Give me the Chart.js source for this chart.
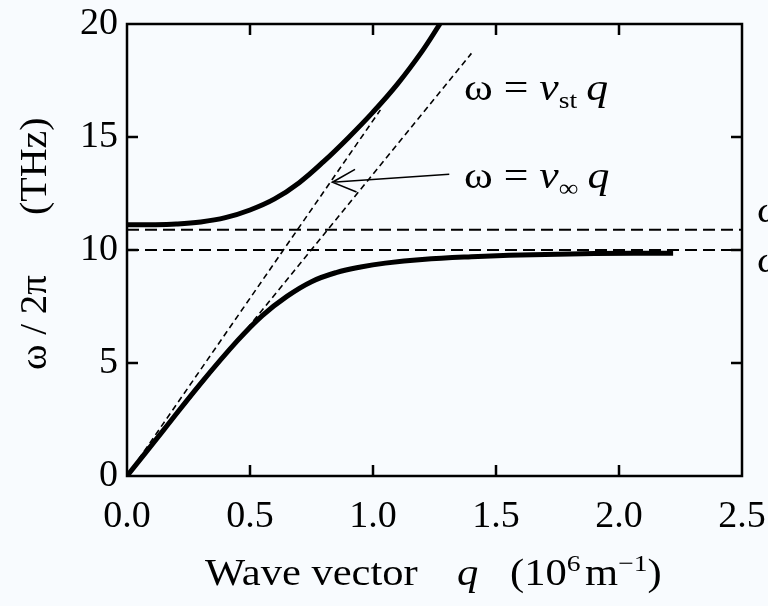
<!DOCTYPE html>
<html>
<head>
<meta charset="utf-8">
<script src="https://cdn.jsdelivr.net/npm/chart.js@4.4.0/dist/chart.umd.min.js"></script>
<style>
  html, body { margin: 0; padding: 0; background: #f8fbfe; }
  #wrap { width: 768px; height: 606px; }
</style>
</head>
<body>
<div id="wrap"><canvas id="myChart" width="768" height="606"></canvas></div>
<script>
// polariton dispersion, values (q in 10^6 m^-1, w/2pi in THz)
const qUpper = [0, 0.1, 0.2, 0.3, 0.4, 0.5, 0.6, 0.7, 0.8, 0.9, 1.0, 1.1, 1.2, 1.272];
const wUpper = [11.12, 11.12, 11.15, 11.24, 11.43, 11.77, 12.26, 12.98, 13.92, 14.97, 16.1, 17.35, 18.8, 20.0];

const qLower = [0, 0.15, 0.3, 0.45, 0.55, 0.65, 0.75, 0.85, 0.95, 1.05, 1.2, 1.4, 1.6, 1.9, 2.22];
const wLower = [0, 2.05, 4.1, 6.0, 7.1, 7.95, 8.6, 9.0, 9.25, 9.42, 9.58, 9.7, 9.78, 9.84, 9.86];

// light lines w = v q
const qStatic = [0, 1.40];
const wStatic = [0, 18.7];
const qInf = [0, 1.03];
const wInf = [0, 16.2];

// horizontal dashed levels
const qLevel = [0, 2.5];
const wLongit = [10.9, 10.9];
const wTrans = [10.0, 10.0];

const xTicks = [0, 0.5, 1.0, 1.5, 2.0, 2.5];
const yTicks = [0, 5, 10, 15, 20];

const SERIF = "'Liberation Serif', 'Times New Roman', serif";

function pts(xs, ys) {
  return xs.map((x, i) => ({ x: x, y: ys[i] }));
}

// text made of pieces with their own font / vertical shift, stretched sideways by sx
function drawRich(ctx, x, y, parts, sx) {
  ctx.save();
  ctx.translate(x, y);
  ctx.scale(sx || 1, 1);
  let cx = 0;
  parts.forEach(p => {
    ctx.font = p.font;
    ctx.fillText(p.t, cx, p.dy || 0);
    cx += ctx.measureText(p.t).width + (p.gap || 0);
  });
  ctx.restore();
}

const decor = {
  id: 'decor',
  beforeDraw(chart) {
    const ctx = chart.ctx;
    ctx.save();
    ctx.fillStyle = '#f8fbfe';
    ctx.fillRect(0, 0, chart.width, chart.height);
    ctx.restore();
  },
  afterDraw(chart) {
    const ctx = chart.ctx;
    const xs = chart.scales.x, ys = chart.scales.y;
    const a = chart.chartArea;
    ctx.save();
    ctx.strokeStyle = '#000';
    ctx.fillStyle = '#000';

    // frame
    ctx.lineWidth = 2.5;
    ctx.strokeRect(a.left, a.top, a.right - a.left, a.bottom - a.top);

    // inward ticks all round
    ctx.beginPath();
    xTicks.slice(1, -1).forEach(v => {
      const px = xs.getPixelForValue(v);
      ctx.moveTo(px, a.bottom); ctx.lineTo(px, a.bottom - 11);
      ctx.moveTo(px, a.top); ctx.lineTo(px, a.top + 11);
    });
    yTicks.slice(1, -1).forEach(v => {
      const py = ys.getPixelForValue(v);
      ctx.moveTo(a.left, py); ctx.lineTo(a.left + 11, py);
      ctx.moveTo(a.right, py); ctx.lineTo(a.right - 11, py);
    });
    ctx.stroke();

    // arrow to the v_inf line
    const tx = xs.getPixelForValue(0.835), ty = ys.getPixelForValue(13.0);
    const sx = xs.getPixelForValue(1.31), sy = ys.getPixelForValue(13.35);
    ctx.lineWidth = 1.6;
    ctx.beginPath();
    ctx.moveTo(sx, sy); ctx.lineTo(tx, ty);
    const ang = Math.atan2(sy - ty, sx - tx);
    const hl = 26, spread = 0.45;
    ctx.moveTo(tx + hl * Math.cos(ang - spread), ty + hl * Math.sin(ang - spread));
    ctx.lineTo(tx, ty);
    ctx.lineTo(tx + hl * Math.cos(ang + spread), ty + hl * Math.sin(ang + spread));
    ctx.stroke();

    // labels of the light lines
    ctx.textBaseline = 'alphabetic';
    ctx.textAlign = 'left';
    drawRich(ctx, xs.getPixelForValue(1.37), ys.getPixelForValue(16.64), [
      { t: 'ω = ', font: '38px ' + SERIF },
      { t: 'v', font: 'italic 38px ' + SERIF },
      { t: 'st', font: '24px ' + SERIF, dy: 8, gap: 8 },
      { t: 'q', font: 'italic 38px ' + SERIF }
    ], 1.15);
    drawRich(ctx, xs.getPixelForValue(1.37), ys.getPixelForValue(12.74), [
      { t: 'ω = ', font: '38px ' + SERIF },
      { t: 'v', font: 'italic 38px ' + SERIF },
      { t: '∞', font: '24px ' + SERIF, dy: 8, gap: 8 },
      { t: 'q', font: 'italic 38px ' + SERIF }
    ], 1.15);

    // level labels cut at the right edge
    drawRich(ctx, 757, ys.getPixelForValue(11.24), [{ t: 'ωL', font: '36px ' + SERIF }], 1.1);
    drawRich(ctx, 757, ys.getPixelForValue(9.03), [{ t: 'ωT', font: '36px ' + SERIF }], 1.1);

    // x title
    const by = 585;
    drawRich(ctx, 205, by, [{ t: 'Wave vector', font: '37px ' + SERIF }], 1.15);
    drawRich(ctx, 457, by, [{ t: 'q', font: 'italic 37px ' + SERIF }], 1.15);
    drawRich(ctx, 510, by, [
      { t: '(10', font: '37px ' + SERIF },
      { t: '6', font: '24px ' + SERIF, dy: -14, gap: 4 },
      { t: 'm', font: '37px ' + SERIF },
      { t: '−1', font: '24px ' + SERIF, dy: -14 },
      { t: ')', font: '37px ' + SERIF }
    ], 1.15);

    // y title, rotated
    ctx.save();
    ctx.translate(46, 370);
    ctx.rotate(-Math.PI / 2);
    drawRich(ctx, 0, 0, [{ t: 'ω / 2π', font: '37px ' + SERIF }], 1.05);
    drawRich(ctx, 155, 0, [{ t: '(THz)', font: '37px ' + SERIF }], 1.08);
    ctx.restore();

    ctx.restore();
  }
};

const solid = { borderColor: '#000', borderWidth: 5, pointRadius: 0, fill: false, tension: 0.4 };

const config = {
  type: 'line',
  data: {
    datasets: [
      Object.assign({ label: 'upper', data: pts(qUpper, wUpper) }, solid),
      Object.assign({ label: 'lower', data: pts(qLower, wLower) }, solid),
      { label: 'v_inf', data: pts(qInf, wInf), borderColor: '#000', borderWidth: 1.6, borderDash: [6, 4], pointRadius: 0 },
      { label: 'v_st', data: pts(qStatic, wStatic), borderColor: '#000', borderWidth: 1.6, borderDash: [6, 4], pointRadius: 0 },
      { label: 'wL', data: pts(qLevel, wLongit), borderColor: '#000', borderWidth: 2, borderDash: [12, 6], pointRadius: 0 },
      { label: 'wT', data: pts(qLevel, wTrans), borderColor: '#000', borderWidth: 2, borderDash: [12, 6], pointRadius: 0 }
    ]
  },
  options: {
    responsive: false,
    animation: false,
    events: [],
    layout: { padding: { left: 0, right: 26, top: 24, bottom: 0 } },
    plugins: { legend: { display: false }, tooltip: { enabled: false } },
    scales: {
      x: {
        type: 'linear', min: 0, max: 2.5,
        afterBuildTicks: s => { s.ticks = xTicks.map(v => ({ value: v })); },
        afterFit: s => { s.height = 130; s.paddingLeft = 0; s.paddingRight = 0; },
        grid: { display: false, drawTicks: false },
        border: { display: false },
        ticks: { color: '#000', padding: 18, maxRotation: 0, font: { family: SERIF, size: 38 },
          callback: v => Number(v).toFixed(1) }
      },
      y: {
        type: 'linear', min: 0, max: 20,
        afterBuildTicks: s => { s.ticks = yTicks.map(v => ({ value: v })); },
        afterFit: s => { s.width = 127; s.paddingTop = 0; s.paddingBottom = 0; },
        grid: { display: false, drawTicks: false },
        border: { display: false },
        ticks: { color: '#000', padding: 9, font: { family: SERIF, size: 38 },
          callback: v => String(v) }
      }
    }
  },
  plugins: [decor]
};

const myChart = new Chart(document.getElementById('myChart'), config);
</script>
</body>
</html>
